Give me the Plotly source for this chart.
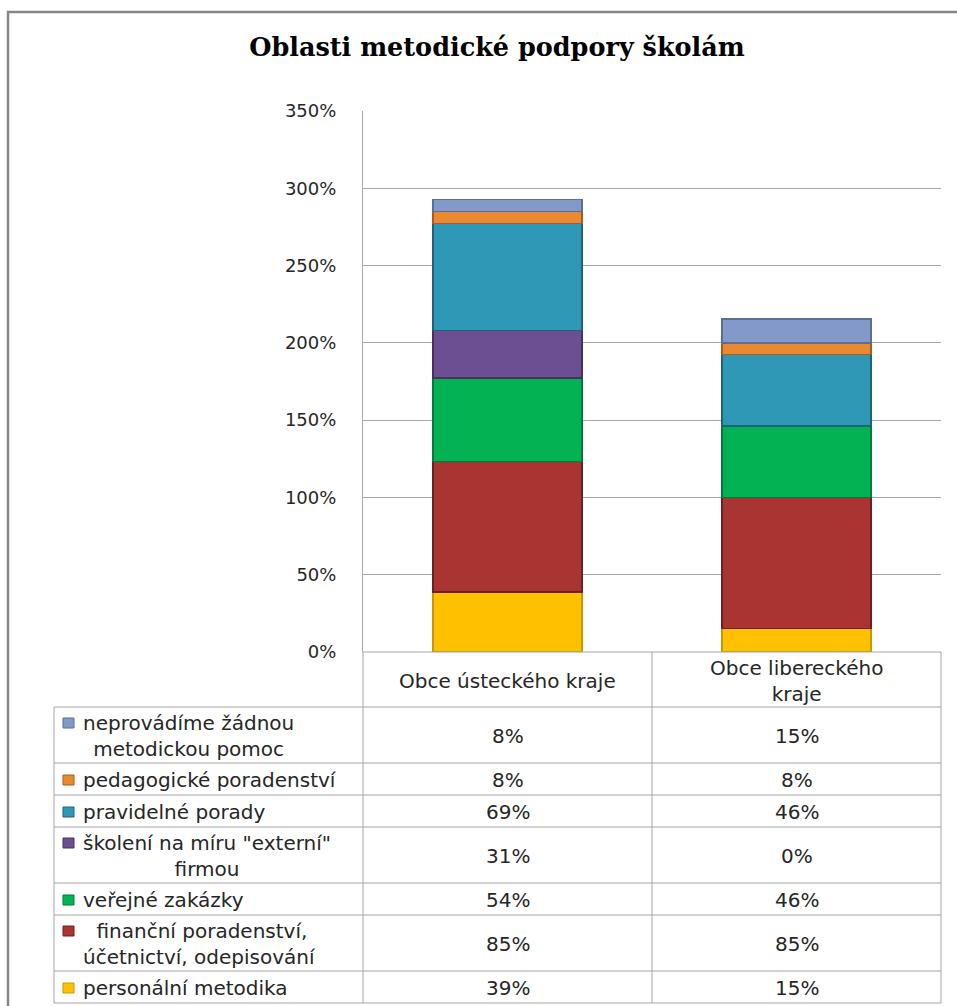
import plotly.graph_objects as go

# ---------------- data ----------------
categories = ["Obce ústeckého kraje", "Obce libereckého kraje"]
header_labels = ["Obce ústeckého kraje", "Obce libereckého<br>kraje"]

# series listed bottom-to-top of the stack
series_names = [
    "personální metodika",
    " finanční poradenství,<br>účetnictví, odepisování",
    "veřejné zakázky",
    "školení na míru \"externí\"<br>firmou",
    "pravidelné porady",
    "pedagogické poradenství",
    "neprovádíme žádnou<br>metodickou pomoc",
]
personalni = [38.8, 15.38]
financni = [84.62, 84.62]
verejne = [53.85, 46.15]
skoleni = [30.77, 0.0]
porady = [69.23, 46.15]
pedagogicke = [7.69, 7.69]
neprovadime = [7.69, 15.38]
series_values = [personalni, financni, verejne, skoleni, porady, pedagogicke, neprovadime]

y_ticks = [0, 50, 100, 150, 200, 250, 300, 350]

# ---------------- styles ----------------
face_colors = ["#FFC000", "#A93532", "#03B353", "#6C4E92", "#2E98B6", "#E98A33", "#8299C9"]
edge_colors = ["#C99800", "#6E2020", "#027A38", "#47325F", "#1D6478", "#A85D1C", "#5A6E99"]

W, H = 957, 1006
L, R, T, B = 363, 16, 111, 354
PW, PH = W - L - R, H - T - B
SANS = "DejaVu Sans"
TXT = "#262626"
GRID = "#A6A6A6"
TFS = 20


def px(xp):
    return (xp - L) / PW


def py(yp):
    return (H - B - yp) / PH


fig = go.Figure()
for name, vals, fc, ec in zip(series_names, series_values, face_colors, edge_colors):
    fig.add_trace(go.Bar(
        x=categories, y=vals, name=name.replace("<br>", " "),
        marker=dict(color=fc, line=dict(color=ec, width=1.3)),
        hovertemplate="%{x}: %{y:.0f}%<extra></extra>",
    ))

shapes = []
annotations = []

# outer frame
shapes.append(dict(type="rect", xref="paper", yref="paper",
                   x0=px(8), x1=px(975), y0=py(12), y1=py(1030),
                   line=dict(color="#868686", width=2.5), layer="below"))

# table geometry (pixel layout)
col_x = [54, 363, 652, 941]
header_top, header_bot = 652, 707
row_edges = [707, 763, 795, 827, 883, 915, 971, 1003]
line_style = dict(color=GRID, width=1)

# header row lines
shapes.append(dict(type="line", xref="paper", yref="paper", x0=px(363), x1=px(941),
                   y0=py(header_top), y1=py(header_top), line=line_style))
for cx in col_x[1:]:
    shapes.append(dict(type="line", xref="paper", yref="paper", x0=px(cx), x1=px(cx),
                       y0=py(header_top), y1=py(header_bot), line=line_style))
# body lines
for ry in row_edges:
    shapes.append(dict(type="line", xref="paper", yref="paper", x0=px(54), x1=px(941),
                       y0=py(ry), y1=py(ry), line=line_style))
for cx in col_x:
    shapes.append(dict(type="line", xref="paper", yref="paper", x0=px(cx), x1=px(cx),
                       y0=py(row_edges[0]), y1=py(row_edges[-1]), line=line_style))

col_centers = [(col_x[1] + col_x[2]) / 2, (col_x[2] + col_x[3]) / 2]

# header labels
for hl, cxc in zip(header_labels, col_centers):
    annotations.append(dict(text=hl, xref="paper", yref="paper", x=px(cxc),
                            y=py((header_top + header_bot) / 2 + 1), xanchor="center",
                            yanchor="middle", showarrow=False, align="center",
                            font=dict(family=SANS, size=TFS, color=TXT)))

# table rows (top-to-bottom = reverse of stack order)
LH = 1.3 * TFS
order = list(range(len(series_names)))[::-1]
for r, si in enumerate(order):
    top, bot = row_edges[r], row_edges[r + 1]
    cy = (top + bot) / 2
    label = series_names[si]
    nlines = label.count("<br>") + 1
    first_cy = cy - (nlines - 1) * LH / 2
    # legend key
    shapes.append(dict(type="rect", xref="paper", yref="paper",
                       x0=px(63), x1=px(74), y0=py(first_cy - 4), y1=py(first_cy + 6),
                       fillcolor=face_colors[si], line=dict(color=edge_colors[si], width=1)))
    annotations.append(dict(text=label, xref="paper", yref="paper", x=px(81), y=py(cy + 1),
                            xanchor="left", yanchor="middle", showarrow=False, align="center",
                            font=dict(family=SANS, size=TFS, color=TXT)))
    for ci, cxc in enumerate(col_centers):
        annotations.append(dict(text=f"{series_values[si][ci]:.0f}%", xref="paper", yref="paper",
                                x=px(cxc), y=py(cy + 1), xanchor="center", yanchor="middle",
                                showarrow=False, font=dict(family=SANS, size=TFS, color=TXT)))

fig.update_layout(
    width=W, height=H,
    margin=dict(l=L, r=R, t=T, b=B),
    paper_bgcolor="white", plot_bgcolor="white",
    barmode="stack", bargap=0.485,
    showlegend=False,
    title=dict(text="<b>Oblasti metodické podpory školám</b>", x=497 / W, xanchor="center",
               y=1 - 47 / H, yanchor="middle", xref="container", yref="container",
               font=dict(family="DejaVu Serif", size=25.5, color="#000000")),
    shapes=shapes, annotations=annotations,
    xaxis=dict(showticklabels=False, showgrid=False, zeroline=False, showline=False,
               ticks=""),
    yaxis=dict(range=[0, 350], tickvals=y_ticks, ticktext=[f"{v}%" for v in y_ticks],
               showgrid=True, gridcolor=GRID, gridwidth=1, zeroline=False,
               showline=True, linecolor=GRID, linewidth=1, ticks="",
               ticklabelstandoff=22,
               tickfont=dict(family=SANS, size=18, color=TXT)),
)

fig.write_html("out.html", config={"displayModeBar": False},
               post_script="document.body.style.margin='0';document.body.style.overflow='hidden';")
